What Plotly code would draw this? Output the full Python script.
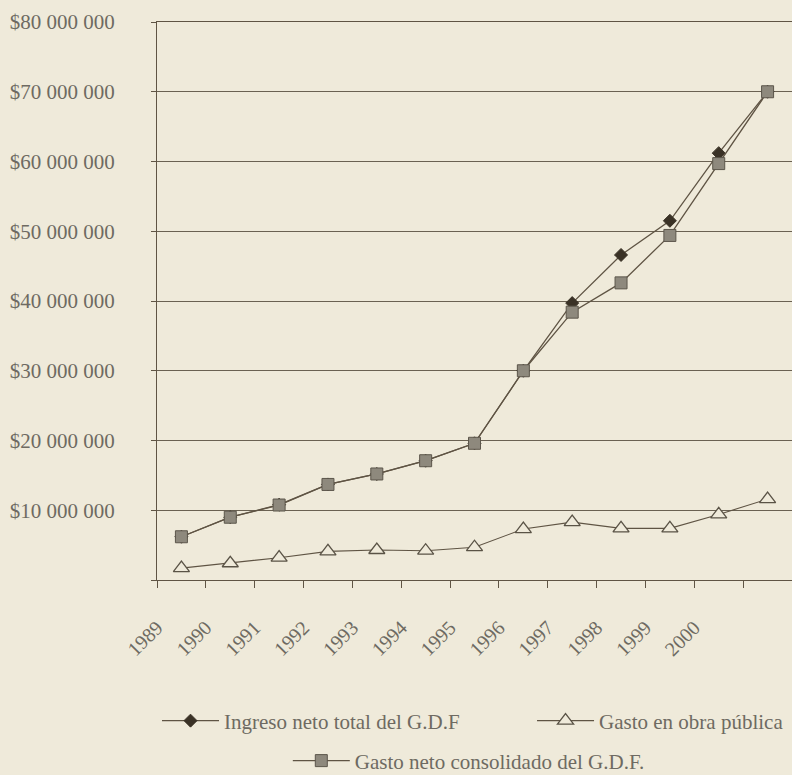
import plotly.graph_objects as go

# Category slots (13 annual observations) and axis labels
slots = [0.5, 1.5, 2.5, 3.5, 4.5, 5.5, 6.5, 7.5, 8.5, 9.5, 10.5, 11.5, 12.5]
year_labels = ["1989", "1990", "1991", "1992", "1993", "1994", "1995",
               "1996", "1997", "1998", "1999", "2000", ""]

# Series values (pesos)
ingreso_total = [6200000, 9000000, 10800000, 13700000, 15200000, 17100000,
                 19600000, 30000000, 39700000, 46600000, 51500000, 61200000,
                 70000000]
gasto_obra = [1700000, 2400000, 3200000, 4100000, 4300000, 4200000,
              4700000, 7300000, 8300000, 7400000, 7400000, 9400000,
              11600000]
gasto_consolidado = [6200000, 9000000, 10750000, 13700000, 15200000, 17100000,
                     19600000, 30000000, 38400000, 42600000, 49400000,
                     59700000, 70000000]

y_ticks = [0, 10000000, 20000000, 30000000, 40000000, 50000000, 60000000,
           70000000, 80000000]
y_tick_labels = ["", "$10 000 000", "$20 000 000", "$30 000 000",
                 "$40 000 000", "$50 000 000", "$60 000 000", "$70 000 000",
                 "$80 000 000"]

BG = "#EFEADA"
LINE = "#5f5444"
TEXT = "#6e6a62"
FONT = "Liberation Serif"

fig = go.Figure()

fig.add_trace(go.Scatter(
    x=slots, y=ingreso_total, mode="lines+markers",
    name="Ingreso neto total del G.D.F",
    line=dict(color=LINE, width=1.3),
    marker=dict(symbol="diamond", size=10, color="#3a3226",
                line=dict(color="#3a3226", width=1)),
    legend="legend",
))
fig.add_trace(go.Scatter(
    x=slots, y=gasto_obra, mode="lines+markers",
    name="Gasto en obra pública",
    line=dict(color=LINE, width=1.1),
    marker=dict(symbol="triangle-up", size=14, color=BG,
                line=dict(color="#5a5346", width=1.3)),
    legend="legend2",
))
fig.add_trace(go.Scatter(
    x=slots, y=gasto_consolidado, mode="lines+markers",
    name="Gasto neto consolidado del G.D.F.",
    line=dict(color=LINE, width=1.3),
    marker=dict(symbol="square", size=12, color="#8e897d",
                line=dict(color="#5c564b", width=1)),
    legend="legend3",
))

legend_common = dict(
    orientation="h", xanchor="left", yanchor="middle", yref="container",
    bgcolor="rgba(0,0,0,0)", itemwidth=57,
    font=dict(family=FONT, size=21, color=TEXT),
)

fig.update_layout(
    width=792, height=775,
    margin=dict(l=157, r=0, t=22, b=195),
    paper_bgcolor=BG, plot_bgcolor=BG,
    font=dict(family=FONT, size=21, color=TEXT),
    showlegend=True,
    legend=dict(x=0.0, y=0.0697, **legend_common),
    legend2=dict(x=0.5906, y=0.0697, **legend_common),
    legend3=dict(x=0.206, y=0.0181, **legend_common),
    xaxis=dict(
        range=[0, 13], tickmode="array", tickvals=list(range(13)),
        ticktext=year_labels, tickangle=-45,
        showgrid=False, zeroline=False,
        showline=True, mirror=True, linecolor=LINE, linewidth=1,
        ticks="outside", ticklen=7, tickcolor=LINE,
        ticklabelstandoff=20,
        tickfont=dict(family=FONT, size=20, color=TEXT),
        fixedrange=True,
    ),
    yaxis=dict(
        range=[0, 80000000], tickmode="array", tickvals=y_ticks,
        ticktext=y_tick_labels,
        showgrid=True, gridcolor="#6a6152", gridwidth=1,
        zeroline=False, showline=True, linecolor=LINE, linewidth=1,
        ticks="outside", ticklen=5, tickcolor=LINE,
        ticklabelstandoff=32,
        tickfont=dict(family=FONT, size=21, color=TEXT),
        fixedrange=True,
    ),
)

fig.write_html("out.html", config={"displayModeBar": False})
